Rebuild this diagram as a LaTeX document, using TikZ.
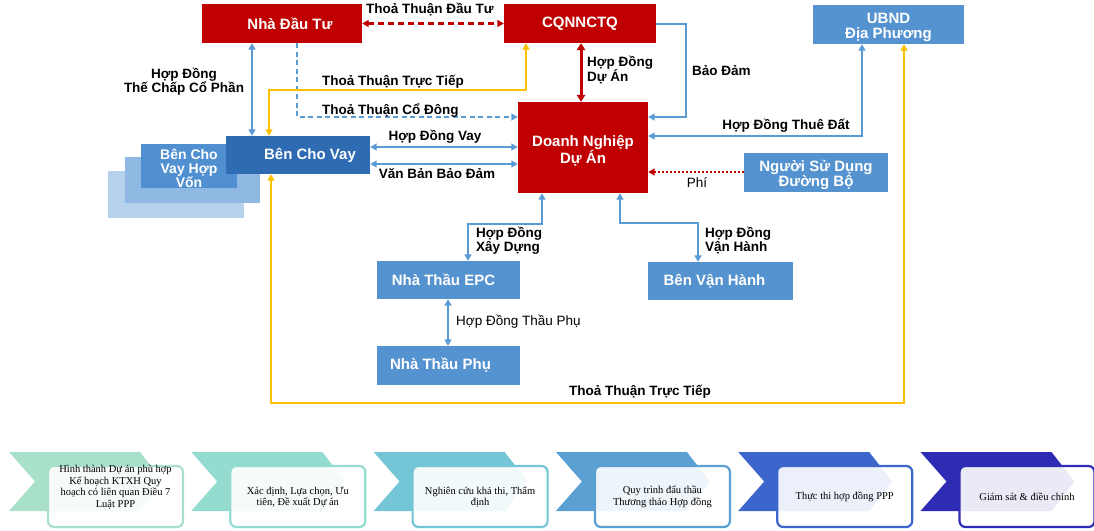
\documentclass[tikz,border=0pt]{standalone}
\usepackage{fontspec}
\setmainfont{Liberation Sans}
\newfontfamily\stepfont{Liberation Serif}
\usetikzlibrary{arrows.meta}

\definecolor{boxred}{HTML}{C00000}
\definecolor{boxblue}{HTML}{5592D0}
\definecolor{lenderblue}{HTML}{2E6BB2}
\definecolor{stackA}{HTML}{5090D0}
\definecolor{stackB}{HTML}{8FB9E2}
\definecolor{stackC}{HTML}{B6D1EC}
\definecolor{lineblue}{HTML}{5B9BD5}
\definecolor{lineyellow}{HTML}{FFC000}
\definecolor{stepA}{HTML}{A9E0C9}
\definecolor{stepB}{HTML}{93DCCF}
\definecolor{stepC}{HTML}{74C6D6}
\definecolor{stepD}{HTML}{5BA0D2}
\definecolor{stepE}{HTML}{3D66CD}
\definecolor{stepF}{HTML}{2E2BB5}

\tikzset{
  basebox/.style={inner sep=0pt, align=center, text=white,
    font=\bfseries\fontsize{15}{15.5}\selectfont},
  redbox/.style={basebox, fill=boxred},
  bluebox/.style={basebox, fill=boxblue},
  boxtext/.style={inner sep=0pt, align=center, text=white,
    font=\bfseries\fontsize{15}{15}\selectfont},
  lab/.style={inner sep=0pt, align=center, font=\bfseries\fontsize{13.5}{14}\selectfont},
  plainlab/.style={inner sep=0pt, align=center, font=\fontsize{13.5}{14}\selectfont},
  bl/.style={draw=lineblue, line width=2.3pt},
  yl/.style={draw=lineyellow, line width=2.4pt},
  rd/.style={draw=boxred, line width=2.3pt},
  rdthick/.style={draw=boxred, line width=3pt, >={Triangle[length=7pt,width=8.5pt]}},
  steptext/.style={inner sep=0pt, align=center, font=\stepfont\fontsize{10.5}{11.5}\selectfont},
}

\begin{document}
\begin{tikzpicture}[x=1pt, y=-1pt, >={Triangle[length=6.5pt,width=7pt]}]
\useasboundingbox (0,0) rectangle (1094,530);

% ---------- parties ----------
\node[redbox, minimum width=160pt, minimum height=39pt] (nha) at (282,23.5) {\hspace*{16pt}Nhà Đầu Tư};
\node[redbox, minimum width=152pt, minimum height=39pt] (cq) at (580,23.5) {CQNNCTQ};
\node[bluebox, minimum width=151pt, minimum height=39pt] (ubnd) at (888.5,24.5) {};
\node[boxtext] (ubndT) at (888.5,27) {UBND\\Địa Phương};
\node[redbox, minimum width=130pt, minimum height=91pt] (dn) at (583,147.5) {};
\node[boxtext] (dnT) at (583,151) {Doanh Nghiệp\\Dự Án};

% syndicated lenders stack
\node[fill=stackC, inner sep=0pt, minimum width=136pt, minimum height=47pt] (stk3) at (176,194.5) {};
\node[fill=stackB, inner sep=0pt, minimum width=135pt, minimum height=46pt] (stk2) at (192.5,180) {};
\node[fill=stackA, inner sep=0pt, minimum width=96pt, minimum height=44pt] (stk1) at (189,166) {};
\node[boxtext, font=\bfseries\fontsize{14}{14}\selectfont] (stk1T) at (189,168) {Bên Cho\\Vay Hợp\\Vốn};
\node[basebox, fill=lenderblue, minimum width=144pt, minimum height=38pt] (bcv) at (298,155) {\hspace*{24pt}Bên Cho Vay};

\node[bluebox, minimum width=144pt, minimum height=39pt] (nsd) at (816,172.5) {};
\node[boxtext] (nsdT) at (816,175) {Người Sử Dụng\\Đường Bộ};
\node[bluebox, minimum width=143pt, minimum height=38pt] (epc) at (448.5,280) {Nhà Thầu EPC\hspace*{10pt}};
\node[bluebox, minimum width=145pt, minimum height=38pt] (bvh) at (720.5,281) {Bên Vận Hành\hspace*{12pt}};
\node[bluebox, minimum width=143pt, minimum height=39pt] (phu) at (448.5,365.5) {Nhà Thầu Phụ\hspace*{16pt}};

% ---------- agreements ----------
\draw[rd, dash pattern=on 6pt off 4pt, <->] (nha.east) -- (cq.west);
\node[lab] (lDT) at (430,10) {Thoả Thuận Đầu Tư};

\draw[bl, <->] (nha.south -| 252,0) -- (bcv.north -| 252,0);
\node[lab] (lTC) at (184,82) {Hợp Đồng\\Thế Chấp Cổ Phần};

\draw[bl, dash pattern=on 5pt off 3.5pt, ->] (nha.south -| 297,0) |- (dn.west |- 0,117);
\node[lab, anchor=west] (lCD) at (322,110) {Thoả Thuận Cổ Đông};

\draw[yl, <->] (cq.south -| 526,0) -- (526,90) -| (bcv.north -| 269,0);
\node[lab, anchor=west] (lTT1) at (322,82) {Thoả Thuận Trực Tiếp};

\draw[bl, <->] (bcv.east |- 0,147) -- (dn.west |- 0,147);
\node[lab] (lVay) at (435,137) {Hợp Đồng Vay};
\draw[bl, <->] (bcv.east |- 0,164) -- (dn.west |- 0,164);
\node[lab] (lVB) at (437,174) {Văn Bản Bảo Đảm};

\draw[rdthick, <->] (cq.south -| 581,0) -- (dn.north -| 581,0);
\node[lab, anchor=west, align=left] (lDA) at (587,70) {Hợp Đồng\\Dự Án};

\draw[bl, ->] (cq.east |- 0,24) -| (686,117) -- (dn.east |- 0,117);
\node[lab, anchor=west] (lBD) at (692,71) {Bảo Đảm};

\draw[bl, <->] (ubnd.south -| 862,0) |- (dn.east |- 0,136);
\node[lab] (lTD) at (786,126) {Hợp Đồng Thuê Đất};

\draw[rd, line width=2.6pt, dash pattern=on 2pt off 2pt, ->] (nsd.west |- 0,172) -- (dn.east |- 0,172);
\node[plainlab] (lPhi) at (697,183) {Phí};

\draw[bl, <->] (dn.south -| 542,0) |- (468,224) -- (epc.north -| 468,0);
\node[lab, anchor=west, align=left] (lXD) at (476,241) {Hợp Đồng\\Xây Dựng};

\draw[bl, <->] (dn.south -| 620,0) |- (698,223) -- (bvh.north -| 698,0);
\node[lab, anchor=west, align=left] (lVH) at (705,241) {Hợp Đồng\\Vận Hành};

\draw[bl, <->] (epc.south -| 448,0) -- (phu.north -| 448,0);
\node[plainlab, anchor=west] (lTP) at (456,322) {Hợp Đồng Thầu Phụ};

\draw[yl, <->] (bcv.south -| 271,0) |- (904,403) -- (ubnd.south -| 904,0);
\node[lab] (lTT2) at (640,392) {Thoả Thuận Trực Tiếp};

% ---------- PPP process steps ----------
\foreach \i/\col/\ty/\txt in {
  0/stepA/487/{Hình thành Dự án phù hợp\\Kế hoạch KTXH Quy\\hoạch có liên quan Điều 7\\Luật PPP},
  1/stepB/497/{Xác định, Lựa chọn, Ưu\\tiên, Đề xuất Dự án},
  2/stepC/497/{Nghiên cứu khả thi, Thẩm\\định},
  3/stepD/497/{Quy trình đấu thầu\\Thương thảo Hợp đồng},
  4/stepE/497/{Thực thi hợp đồng PPP},
  5/stepF/497/{Giám sát \& điều chỉnh}}
{
  \pgfmathsetmacro\a{9+182.3*\i}
  \fill[\col] (\a,452) -- ++(131,0) -- ++(23,29.5) -- ++(-23,29.5) -- ++(-131,0) -- ++(26,-29.5) -- cycle;
  \draw[\col, line width=2.2pt, fill=white, fill opacity=0.9, rounded corners=6pt]
    (\a+39,466) rectangle (\a+174,527);
  \node[steptext] (s\i) at (\a+106.5,\ty) {\txt};
}
\end{tikzpicture}
\end{document}
